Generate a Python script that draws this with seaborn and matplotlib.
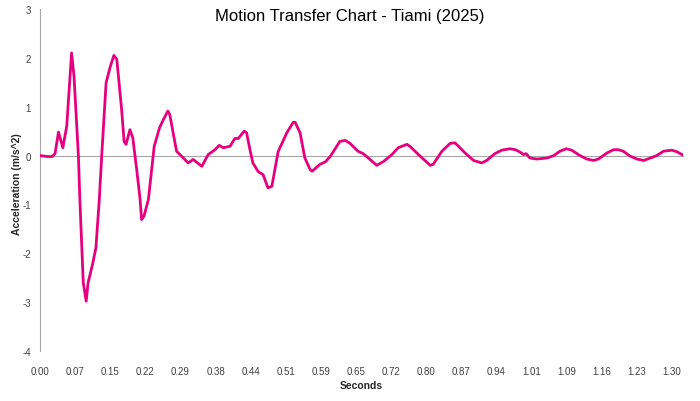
import numpy as np
import pandas as pd
import seaborn as sns
import matplotlib.pyplot as plt

# Time (s) and acceleration (m/s^2)
seconds = [0.000, 0.016, 0.025, 0.031, 0.038, 0.047, 0.055, 0.065, 0.070, 0.079,
           0.082, 0.089, 0.095, 0.099, 0.108, 0.115, 0.122, 0.127, 0.136, 0.144,
           0.152, 0.158, 0.168, 0.173, 0.177, 0.185, 0.191, 0.199, 0.206, 0.209,
           0.214, 0.223, 0.235, 0.246, 0.254, 0.263, 0.267, 0.281, 0.288, 0.305,
           0.315, 0.333, 0.346, 0.360, 0.369, 0.377, 0.391, 0.401, 0.408, 0.420,
           0.425, 0.432, 0.438, 0.449, 0.459, 0.469, 0.477, 0.490, 0.508, 0.521,
           0.525, 0.535, 0.545, 0.556, 0.560, 0.576, 0.587, 0.597, 0.617, 0.628,
           0.638, 0.654, 0.665, 0.679, 0.693, 0.707, 0.724, 0.737, 0.755, 0.761,
           0.782, 0.803, 0.809, 0.827, 0.844, 0.854, 0.875, 0.892, 0.909, 0.919,
           0.936, 0.950, 0.967, 0.978, 0.988, 0.995, 1.000, 1.008, 1.022, 1.043,
           1.057, 1.070, 1.083, 1.094, 1.111, 1.125, 1.139, 1.149, 1.166, 1.180,
           1.190, 1.200, 1.214, 1.228, 1.242, 1.256, 1.269, 1.283, 1.300, 1.310,
           1.323]
accel = [0.00, -0.02, -0.02, 0.04, 0.48, 0.16, 0.60, 2.10, 1.62, 0.00,
         -0.90, -2.60, -2.98, -2.60, -2.23, -1.89, -0.90, 0.00, 1.49, 1.80,
         2.05, 1.97, 0.94, 0.29, 0.23, 0.53, 0.36, -0.29, -0.90, -1.31,
         -1.24, -0.90, 0.19, 0.57, 0.74, 0.91, 0.84, 0.09, 0.02, -0.15,
         -0.08, -0.22, 0.02, 0.12, 0.21, 0.16, 0.19, 0.35, 0.35, 0.50,
         0.47, 0.12, -0.15, -0.33, -0.39, -0.66, -0.63, 0.08, 0.47, 0.68,
         0.68, 0.47, -0.05, -0.29, -0.32, -0.18, -0.13, -0.02, 0.29, 0.31,
         0.25, 0.09, 0.04, -0.08, -0.20, -0.12, 0.02, 0.16, 0.23, 0.19,
         -0.01, -0.20, -0.18, 0.09, 0.25, 0.26, 0.05, -0.10, -0.15, -0.10,
         0.04, 0.11, 0.14, 0.12, 0.07, 0.02, 0.04, -0.05, -0.07, -0.05,
         0.00, 0.09, 0.14, 0.11, 0.00, -0.07, -0.10, -0.07, 0.05, 0.12,
         0.12, 0.09, -0.01, -0.07, -0.10, -0.05, 0.00, 0.09, 0.11, 0.08,
         0.01]

# Category-style x labels from the original workbook
tick_labels = ['0.00', '0.07', '0.15', '0.22', '0.29', '0.38', '0.44', '0.51', '0.59', '0.65',
               '0.72', '0.80', '0.87', '0.94', '1.01', '1.09', '1.16', '1.23', '1.30']

df = pd.DataFrame({'Seconds': seconds, 'Acceleration': accel})

sns.set_style('white')
plt.rcParams['font.family'] = ['Liberation Sans', 'DejaVu Sans']

fig = plt.figure(figsize=(7, 4.02), dpi=100)
ax = fig.add_axes([40 / 700, 50 / 402, 643 / 700, 342 / 402])

sns.lineplot(data=df, x='Seconds', y='Acceleration', color='#E6007E', linewidth=2.0,
             sort=False, ax=ax, zorder=3)

ax.set_xlim(0, seconds[-1])
ax.set_ylim(-4, 3)
ax.set_xlabel('')

axis_grey = '#A6A6A6'
for side in ['top', 'right']:
    ax.spines[side].set_visible(False)
ax.spines['left'].set_color(axis_grey)
ax.spines['bottom'].set_color(axis_grey)
ax.spines['bottom'].set_position(('data', 0))

# tick marks on the zero line (major unit differs from label interval)
label_step = 1.30 / (len(tick_labels) - 1)
ax.set_xticks(np.arange(0, seconds[-1], label_step * 4 / 3))
ax.set_xticklabels([])
ax.tick_params(axis='x', direction='out', length=3, width=0.8, color=axis_grey)

ax.set_yticks(range(-4, 4))
ax.set_yticklabels([str(v) for v in range(-4, 4)])
ax.tick_params(axis='y', direction='out', length=3, width=0.8, color=axis_grey,
               labelsize=7, labelcolor='#404040', pad=3.5)

# labels sit at the bottom of the plot area, like Excel's "low" label position
sec = ax.secondary_xaxis('bottom')
sec.set_xticks(np.arange(len(tick_labels)) * label_step)
sec.set_xticklabels(tick_labels)
sec.tick_params(length=0, labelsize=7, labelcolor='#404040', pad=11)
sec.spines['bottom'].set_visible(False)
sec.set_xlabel('Seconds', fontsize=7.5, fontweight='bold', labelpad=3)

ax.set_ylabel('Acceleration (m/s^2)', fontsize=7.5, fontweight='bold')
ax.yaxis.set_label_coords(-18 / 643, 0.49)

fig.text(0.5, 1 - 17 / 402, 'Motion Transfer Chart - Tiami (2025)', fontsize=12,
         ha='center', va='center', color='black')

plt.savefig('out.png', dpi=100)
